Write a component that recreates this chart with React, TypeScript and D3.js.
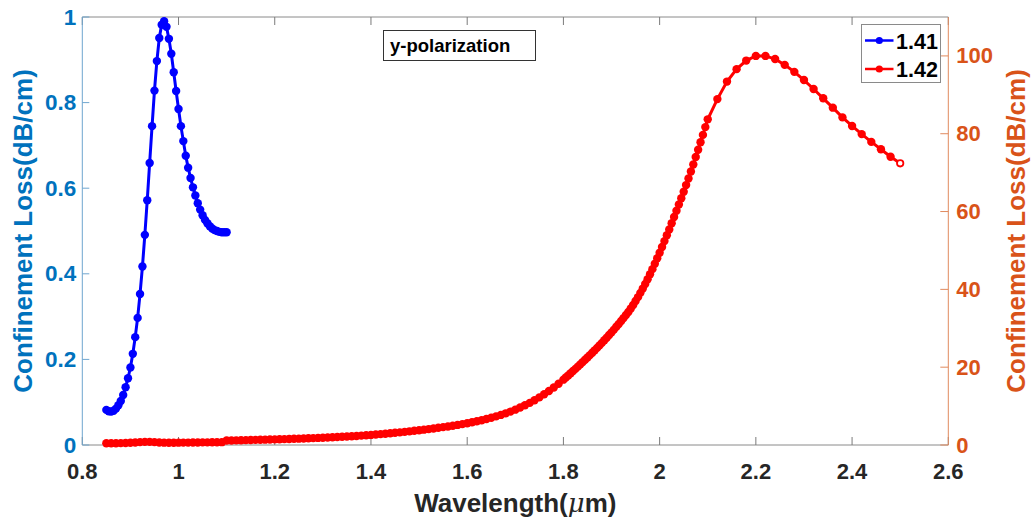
import React from "react";
import * as d3 from "d3";

// ---------- data ----------
const xTicks = [0.8, 1, 1.2, 1.4, 1.6, 1.8, 2, 2.2, 2.4, 2.6];
const leftTicks = [0, 0.2, 0.4, 0.6, 0.8, 1];
const rightTicks = [0, 20, 40, 60, 80, 100];

// n = 1.41, wavelength 0.85 : 0.005 : 1.10
const blueX = d3.range(51).map((i) => +(0.85 + i * 0.005).toFixed(3));
const blueY = [
  0.082, 0.079, 0.078, 0.08, 0.085, 0.093, 0.103, 0.117, 0.135, 0.156,
  0.181, 0.213, 0.252, 0.297, 0.353, 0.417, 0.491, 0.572, 0.659, 0.745,
  0.828, 0.897, 0.951, 0.982, 0.99, 0.977, 0.949, 0.914, 0.871, 0.827,
  0.785, 0.745, 0.71, 0.676, 0.648, 0.624, 0.602, 0.583, 0.565, 0.55,
  0.537, 0.526, 0.518, 0.511, 0.506, 0.502, 0.5, 0.498, 0.497, 0.497, 0.497,
];

// n = 1.42, wavelength 0.85 : 0.01 : 1.80
const redX1 = d3.range(96).map((i) => +(0.85 + i * 0.01).toFixed(3));
const redY1 = [
  0.44, 0.45, 0.46, 0.48, 0.52, 0.58, 0.66, 0.74, 0.8, 0.8,
  0.74, 0.66, 0.6, 0.58, 0.58, 0.6, 0.61, 0.62, 0.64, 0.65,
  0.67, 0.68, 0.7, 0.71, 0.73,
  1.15, 1.17, 1.2, 1.22, 1.25, 1.28, 1.31, 1.34, 1.37, 1.4,
  1.44, 1.47, 1.51, 1.55, 1.59, 1.63, 1.68, 1.72, 1.77, 1.82,
  1.87, 1.93, 1.99, 2.05, 2.11, 2.18, 2.25, 2.33, 2.41, 2.5,
  2.59, 2.69, 2.79, 2.9, 3.01, 3.13, 3.25, 3.38, 3.51, 3.65,
  3.79, 3.94, 4.09, 4.25, 4.42, 4.59, 4.77, 4.96, 5.16, 5.37,
  5.6, 5.84, 6.1, 6.38, 6.68, 7.0, 7.35, 7.73, 8.14, 8.59,
  9.08, 9.62, 10.2, 10.83, 11.51, 12.24, 13.03, 13.88, 14.79, 15.76,
  16.79,
];
// 1.805 : 0.005 : 2.10
const redX2 = d3.range(60).map((i) => +(1.805 + i * 0.005).toFixed(3));
const redY2 = [
  17.33, 17.88, 18.44, 19.0, 19.57, 20.14, 20.72, 21.31, 21.9, 22.5,
  23.1, 23.71, 24.33, 24.96, 25.6, 26.25, 26.91, 27.58, 28.26, 28.95,
  29.66, 30.38, 31.11, 31.86, 32.62, 33.4, 34.2, 35.1, 36.0, 37.0,
  38.0, 39.1, 40.2, 41.4, 42.6, 43.9, 45.2, 46.6, 48.0, 49.4,
  50.9, 52.4, 53.9, 55.4, 57.0, 58.6, 60.2, 61.8, 63.4, 65.1,
  66.8, 68.5, 70.3, 72.1, 74.0, 75.9, 77.8, 79.7, 81.7, 83.7,
];
// 2.12 : 0.02 : 2.50
const redX3 = d3.range(20).map((i) => +(2.12 + i * 0.02).toFixed(3));
const redY3 = [
  88.9, 93.4, 96.6, 98.8, 100.0, 100.0, 99.2, 97.7, 95.9, 93.8,
  91.5, 89.1, 86.7, 84.2, 82.0, 79.9, 77.9, 76.0, 74.1, 72.4,
];

const blueData = blueX.map((x, i) => ({ x, y: blueY[i] }));
const redData = [
  ...redX1.map((x, i) => ({ x, y: redY1[i] })),
  ...redX2.map((x, i) => ({ x, y: redY2[i] })),
  ...redX3.map((x, i) => ({ x, y: redY3[i] })),
];

const legendLabels = ["1.41", "1.42"];
const annotation = "y-polarization";
const yLabel = "Confinement Loss(dB/cm)";

// ---------- layout ----------
const W = 1036;
const H = 520;
const L = 82.3;
const R = 948.3;
const T = 17;
const B = 445;

const BLUE_AX = "#0072BD";
const ORANGE_AX = "#D95319";
const FONT = "'Liberation Sans', Arial, Helvetica, sans-serif";

export default function App() {
  const x = d3.scaleLinear().domain([0.8, 2.6]).range([L, R]);
  const yL = d3.scaleLinear().domain([0, 1]).range([B, T]);
  const yR = d3.scaleLinear().domain([0, 110]).range([B, T]);

  const lineB = d3
    .line<{ x: number; y: number }>()
    .x((d) => x(d.x))
    .y((d) => yL(d.y));
  const lineR = d3
    .line<{ x: number; y: number }>()
    .x((d) => x(d.x))
    .y((d) => yR(d.y));

  const r = 4.2;

  return (
    <svg
      width={W}
      height={H}
      style={{ position: "absolute", left: 0, top: 0, background: "#fff" }}
      fontFamily={FONT}
      fontWeight="bold"
    >
      <rect x={0} y={0} width={W} height={H} fill="#fff" />

      {/* box: top & bottom */}
      <line x1={L} x2={R} y1={T} y2={T} stroke="#8a8a8a" strokeWidth={1} />
      <line x1={L} x2={R} y1={B} y2={B} stroke="#8a8a8a" strokeWidth={1} />

      {/* x ticks bottom and top */}
      {xTicks.map((t) => (
        <g key={"xt" + t}>
          <line x1={x(t)} x2={x(t)} y1={B} y2={B - 8} stroke="#7a7a7a" />
          <line x1={x(t)} x2={x(t)} y1={T} y2={T + 8} stroke="#7a7a7a" />
          <text
            x={x(t)}
            y={479}
            textAnchor="middle"
            fontSize={22}
            fill="#262626"
          >
            {String(t)}
          </text>
        </g>
      ))}

      {/* left axis */}
      <line x1={L} x2={L} y1={T} y2={B} stroke="#6fa6cf" strokeWidth={1} />
      {leftTicks.map((t) => (
        <g key={"lt" + t}>
          <line x1={L} x2={L + 7} y1={yL(t)} y2={yL(t)} stroke="#6fa6cf" />
          <text
            x={L - 6}
            y={yL(t) + 7.5}
            textAnchor="end"
            fontSize={22.5}
            fill={BLUE_AX}
          >
            {String(t)}
          </text>
        </g>
      ))}
      <text
        transform={`translate(32, ${(T + B) / 2}) rotate(-90)`}
        textAnchor="middle"
        fontSize={26}
        fill={BLUE_AX}
      >
        {yLabel}
      </text>

      {/* right axis */}
      <line x1={R} x2={R} y1={T} y2={B} stroke="#e08a5e" strokeWidth={1} />
      {rightTicks.map((t) => (
        <g key={"rt" + t}>
          <line x1={R} x2={R - 8} y1={yR(t)} y2={yR(t)} stroke="#e08a5e" />
          <text
            x={R + 8}
            y={yR(t) + 7.5}
            textAnchor="start"
            fontSize={22}
            fill={ORANGE_AX}
          >
            {String(t)}
          </text>
        </g>
      ))}
      <text
        transform={`translate(1025, ${(T + B) / 2}) rotate(-90)`}
        textAnchor="middle"
        fontSize={26}
        fill={ORANGE_AX}
      >
        {yLabel}
      </text>

      {/* x label */}
      <text x={(L + R) / 2} y={512} textAnchor="middle" fontSize={26} fill="#262626">
        Wavelength(
        <tspan fontStyle="italic" fontWeight="normal" fontFamily="'DejaVu Serif', 'Liberation Serif', serif">
          μ
        </tspan>
        m)
      </text>

      {/* blue series */}
      <path d={lineB(blueData) || ""} fill="none" stroke="#0000FF" strokeWidth={3} />
      {blueData.map((d, i) => (
        <circle key={"b" + i} cx={x(d.x)} cy={yL(d.y)} r={r} fill="#0000FF" />
      ))}

      {/* red series */}
      <path d={lineR(redData) || ""} fill="none" stroke="#FF0000" strokeWidth={3} />
      {redData.map((d, i) =>
        i === redData.length - 1 ? (
          <circle
            key={"r" + i}
            cx={x(d.x)}
            cy={yR(d.y)}
            r={r - 1}
            fill="#fff"
            stroke="#FF0000"
            strokeWidth={1.8}
          />
        ) : (
          <circle key={"r" + i} cx={x(d.x)} cy={yR(d.y)} r={r} fill="#FF0000" />
        )
      )}

      {/* annotation box */}
      <rect x={383.5} y={30.5} width={152} height={30} fill="#fff" stroke="#333" strokeWidth={1} />
      <text x={390} y={52} fontSize={18.5} fill="#000">
        {annotation}
      </text>

      {/* legend */}
      <rect x={861.5} y={24.5} width={79} height={58} fill="#fff" stroke="#8a8a8a" strokeWidth={1} />
      {legendLabels.map((lab, i) => {
        const cy = 40.5 + i * 28.5;
        const col = i === 0 ? "#0000FF" : "#FF0000";
        return (
          <g key={lab}>
            <line x1={865} x2={893.5} y1={cy} y2={cy} stroke={col} strokeWidth={2.5} />
            <circle cx={879.3} cy={cy} r={3.6} fill={col} />
            <text x={896} y={cy + 8} fontSize={21.5} fill="#000">
              {lab}
            </text>
          </g>
        );
      })}
    </svg>
  );
}
